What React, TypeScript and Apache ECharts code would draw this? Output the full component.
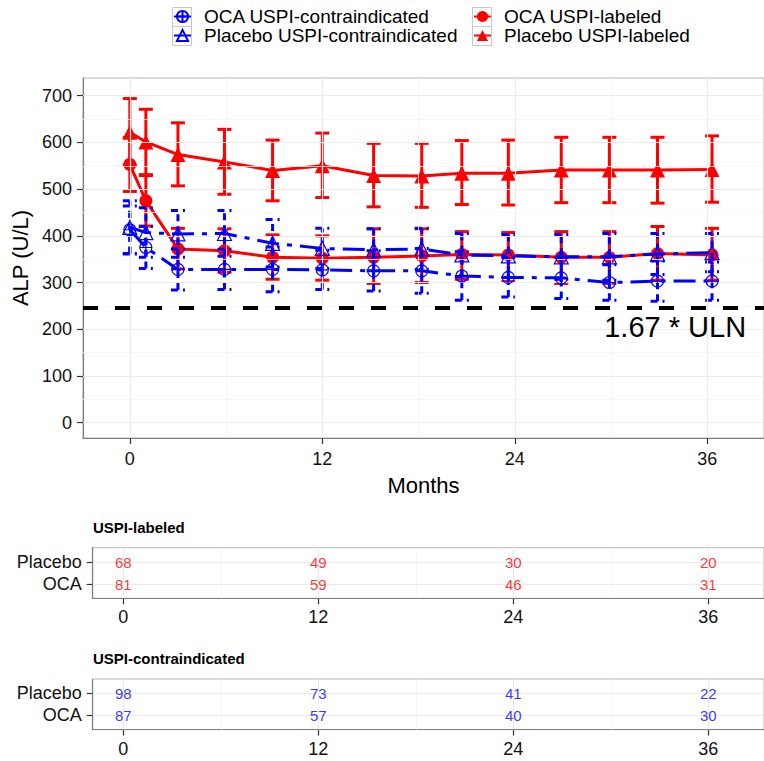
import React, { useEffect, useRef } from 'react';
import * as echarts from 'echarts';

// Visit times (months) shared by all four groups
const months = [0, 1, 3, 5.9, 8.9, 12, 15.2, 18.2, 20.7, 23.6, 26.9, 29.9, 32.9, 36.3];

// Placebo, USPI-labeled
const placeboLabeledMean = [622, 601, 574, 558, 540, 550, 529, 528, 534, 534, 541, 541, 541, 542];
const placeboLabeledLow = [551, 531, 507, 489, 475, 482, 462, 461, 467, 466, 471, 471, 470, 472];
const placeboLabeledHigh = [694, 671, 642, 628, 605, 620, 598, 598, 604, 605, 611, 611, 611, 614];

// OCA, USPI-labeled
const ocaLabeledMean = [553, 475, 372, 368, 354, 352, 354, 357, 360, 359, 354, 354, 362, 359];
const ocaLabeledLow = [495, 421, 329, 322, 307, 305, 298, 300, 307, 302, 298, 298, 305, 305];
const ocaLabeledHigh = [611, 529, 416, 415, 402, 400, 415, 415, 409, 407, 409, 409, 420, 416];

// Placebo, USPI-contraindicated
const placeboContraMean = [418, 407, 404, 405, 384, 373, 370, 372, 359, 357, 355, 355, 361, 364];
const placeboContraLow = [361, 354, 354, 356, 333, 330, 325, 328, 313, 311, 307, 305, 317, 323];
const placeboContraHigh = [475, 460, 454, 454, 435, 416, 415, 416, 405, 403, 403, 405, 405, 405];

// OCA, USPI-contraindicated
const ocaContraMean = [413, 375, 328, 328, 328, 327, 325, 325, 314, 311, 310, 300, 303, 303];
const ocaContraLow = [362, 330, 284, 285, 280, 285, 282, 277, 262, 269, 266, 262, 260, 262];
const ocaContraHigh = [464, 420, 372, 371, 376, 369, 368, 373, 366, 353, 354, 338, 346, 344];

// Reference threshold (1.67 x upper limit of normal)
const ulnThreshold = 247;
const ulnLabel = '1.67 * ULN';

// Axis ticks and grid lines
const yTicks = [0, 100, 200, 300, 400, 500, 600, 700];
const yMinor = [50, 150, 250, 350, 450, 550, 650];
const xTicks = [0, 12, 24, 36];
const xMinor = [6, 18, 30];

// Numbers at risk
const riskMonths = [0, 12, 24, 36];
const labeledPlacebo = [68, 49, 30, 20];
const labeledOCA = [81, 59, 46, 31];
const contraPlacebo = [98, 73, 41, 22];
const contraOCA = [87, 57, 40, 30];
const riskRows = ['OCA', 'Placebo'];

const NAME_OCA_CONTRA = 'OCA USPI-contraindicated';
const NAME_PBO_CONTRA = 'Placebo USPI-contraindicated';
const NAME_OCA_LAB = 'OCA USPI-labeled';
const NAME_PBO_LAB = 'Placebo USPI-labeled';

const RED = '#ff0000';
const BLUE = '#0000ff';
const FONT = "'Liberation Sans', Arial, Helvetica, sans-serif";

const circlePlus = 'path://M10,0A10,10,0,1,1,-10,0A10,10,0,1,1,10,0ZM-10,0L10,0M0,-10L0,10';

const zip2 = (xs: number[], ys: number[]) => xs.map((x, i) => [x, ys[i]]);
const zip3 = (xs: number[], a: number[], b: number[]) => xs.map((x, i) => [x, a[i], b[i]]);

function errorBars(color: string, dash: number[] | null, low: number[], high: number[], z: number) {
  return {
    type: 'custom',
    xAxisIndex: 0,
    yAxisIndex: 0,
    z,
    silent: true,
    encode: { x: 0, y: [1, 2] },
    data: zip3(months, low, high),
    renderItem: (_params: any, api: any) => {
      const x = api.value(0);
      const lo = api.coord([x, api.value(1)]);
      const hi = api.coord([x, api.value(2)]);
      const hw = 7;
      const style: any = { stroke: color, lineWidth: 3, fill: 'none' };
      if (dash) style.lineDash = dash;
      return {
        type: 'group',
        children: [
          { type: 'line', shape: { x1: lo[0], y1: lo[1], x2: hi[0], y2: hi[1] }, style },
          { type: 'line', shape: { x1: hi[0] - hw, y1: hi[1], x2: hi[0] + hw, y2: hi[1] }, style },
          { type: 'line', shape: { x1: lo[0] - hw, y1: lo[1], x2: lo[0] + hw, y2: lo[1] }, style },
        ],
      };
    },
  };
}

function gridLines(xAxisIndex: number, yAxisIndex: number, majorX: number[], minorX: number[], majorY: number[], minorY: number[]) {
  const major = { color: '#ebebeb', width: 1.2, type: 'solid' };
  const minor = { color: '#f4f4f4', width: 0.8, type: 'solid' };
  return {
    type: 'line',
    xAxisIndex,
    yAxisIndex,
    z: 0,
    silent: true,
    data: [],
    markLine: {
      silent: true,
      symbol: 'none',
      animation: false,
      label: { show: false },
      emphasis: { disabled: true },
      data: [
        ...minorX.map((v) => ({ xAxis: v, lineStyle: minor })),
        ...minorY.map((v) => ({ yAxis: v, lineStyle: minor })),
        ...majorX.map((v) => ({ xAxis: v, lineStyle: major })),
        ...majorY.map((v) => ({ yAxis: v, lineStyle: major })),
      ],
    },
  };
}

function riskSeries(xAxisIndex: number, yAxisIndex: number, placebo: number[], oca: number[], color: string) {
  const data = [
    ...riskMonths.map((m, i) => [m, 2, placebo[i]]),
    ...riskMonths.map((m, i) => [m, 1, oca[i]]),
  ];
  return {
    type: 'scatter',
    xAxisIndex,
    yAxisIndex,
    z: 5,
    silent: true,
    symbolSize: 1,
    itemStyle: { color: 'rgba(0,0,0,0)' },
    data,
    label: {
      show: true,
      position: 'inside',
      formatter: (p: any) => String(p.value[2]),
      color,
      fontSize: 15,
      fontFamily: FONT,
    },
  };
}

function riskXAxis(gridIndex: number) {
  return {
    type: 'value',
    gridIndex,
    min: -1.88,
    max: 39.43,
    axisLine: { show: true, onZero: false, lineStyle: { color: '#7f7f7f', width: 1.2 } },
    axisTick: { show: true, customValues: xTicks, length: 6, lineStyle: { color: '#333', width: 1.2 } },
    axisLabel: { customValues: xTicks, margin: 10, fontSize: 18, color: '#111', fontFamily: FONT },
    splitLine: { show: false },
  };
}

function riskYAxis(gridIndex: number) {
  return {
    type: 'value',
    gridIndex,
    min: 0.35,
    max: 2.65,
    axisLine: { show: true, onZero: false, lineStyle: { color: '#7f7f7f', width: 1.2 } },
    axisTick: { show: true, customValues: [1, 2], length: 6, lineStyle: { color: '#333', width: 1.2 } },
    axisLabel: {
      customValues: [1, 2],
      formatter: (v: number) => riskRows[Math.round(v) - 1] ?? '',
      margin: 11,
      fontSize: 18,
      color: '#111',
      fontFamily: FONT,
    },
    splitLine: { show: false },
  };
}

// light frame drawn around each legend key
function keyBox(x: number, y: number) {
  return {
    type: 'rect',
    x,
    y,
    shape: { x: 0, y: 0, width: 19, height: 19 },
    style: { fill: 'none', stroke: '#c8c8c8', lineWidth: 1 },
    silent: true,
    z: 100,
  };
}

function buildOption() {
  const legendCommon = {
    orient: 'vertical',
    top: 7,
    padding: 0,
    itemWidth: 17,
    itemHeight: 14,
    itemGap: 0,
    selectedMode: false,
    textStyle: { fontSize: 19, color: '#000', fontFamily: FONT, lineHeight: 19, padding: [0, 0, 0, 8] },
  };
  const titleStyle = { fontSize: 15, fontWeight: 'bold', color: '#000', fontFamily: FONT };

  return {
    animation: false,
    backgroundColor: '#ffffff',
    textStyle: { fontFamily: FONT },
    title: [
      { text: 'USPI-labeled', left: 93, top: 520, padding: 0, textStyle: titleStyle },
      { text: 'USPI-contraindicated', left: 93, top: 651, padding: 0, textStyle: titleStyle },
    ],
    legend: [
      { ...legendCommon, left: 173, data: [NAME_OCA_CONTRA, NAME_PBO_CONTRA] },
      { ...legendCommon, left: 473, data: [NAME_OCA_LAB, NAME_PBO_LAB] },
    ],
    graphic: [keyBox(172.5, 7.5), keyBox(172.5, 26.5), keyBox(472.5, 7.5), keyBox(472.5, 26.5)],
    grid: [
      { left: 83, top: 78, width: 681, height: 360, show: true, borderColor: '#b5b5b5', borderWidth: 1, backgroundColor: 'transparent', outerBoundsMode: 'none' },
      { left: 92.7, top: 547.7, width: 671.3, height: 50.6, show: true, borderColor: '#b5b5b5', borderWidth: 1, backgroundColor: 'transparent', outerBoundsMode: 'none' },
      { left: 92.7, top: 679, width: 671.3, height: 50.6, show: true, borderColor: '#b5b5b5', borderWidth: 1, backgroundColor: 'transparent', outerBoundsMode: 'none' },
    ],
    xAxis: [
      {
        type: 'value',
        gridIndex: 0,
        min: -2.92,
        max: 39.54,
        name: 'Months',
        nameLocation: 'middle',
        nameGap: 36,
        nameTextStyle: { fontSize: 22, color: '#000', fontFamily: FONT },
        axisLine: { show: true, onZero: false, lineStyle: { color: '#7f7f7f', width: 1.2 } },
        axisTick: { show: true, customValues: xTicks, length: 6, lineStyle: { color: '#333', width: 1.2 } },
        axisLabel: { customValues: xTicks, margin: 12, fontSize: 18, color: '#111', fontFamily: FONT },
        splitLine: { show: false },
      },
      riskXAxis(1),
      riskXAxis(2),
    ],
    yAxis: [
      {
        type: 'value',
        gridIndex: 0,
        min: -33,
        max: 738,
        name: 'ALP (U/L)',
        nameLocation: 'middle',
        nameGap: 50,
        nameTextStyle: { fontSize: 22, color: '#000', fontFamily: FONT },
        axisLine: { show: true, onZero: false, lineStyle: { color: '#7f7f7f', width: 1.2 } },
        axisTick: { show: true, customValues: yTicks, length: 6, lineStyle: { color: '#333', width: 1.2 } },
        axisLabel: { customValues: yTicks, margin: 11, fontSize: 18, color: '#111', fontFamily: FONT },
        splitLine: { show: false },
      },
      riskYAxis(1),
      riskYAxis(2),
    ],
    series: [
      gridLines(0, 0, xTicks, xMinor, yTicks, yMinor),
      gridLines(1, 1, xTicks, xMinor, [1, 2], []),
      gridLines(2, 2, xTicks, xMinor, [1, 2], []),

      // threshold line and its caption
      {
        type: 'line',
        xAxisIndex: 0,
        yAxisIndex: 0,
        z: 1,
        silent: true,
        data: [],
        markLine: {
          silent: true,
          symbol: 'none',
          animation: false,
          label: { show: false },
          lineStyle: { color: '#000', width: 4, type: [15, 17] },
          data: [{ yAxis: ulnThreshold }],
        },
        markPoint: {
          silent: true,
          symbol: 'circle',
          symbolSize: 0,
          animation: false,
          label: { show: true, position: 'inside', formatter: ulnLabel, fontSize: 29, color: '#000', fontFamily: FONT },
          data: [{ coord: [34, 205] }],
        },
      },

      // USPI-labeled groups
      errorBars(RED, null, placeboLabeledLow, placeboLabeledHigh, 2),
      errorBars(RED, null, ocaLabeledLow, ocaLabeledHigh, 2),
      {
        type: 'line',
        name: NAME_PBO_LAB,
        xAxisIndex: 0,
        yAxisIndex: 0,
        z: 3,
        data: zip2(months, placeboLabeledMean),
        symbol: 'triangle',
        symbolSize: 15,
        showAllSymbol: true,
        lineStyle: { color: RED, width: 3 },
        itemStyle: { color: RED, borderColor: RED, borderWidth: 0 },
      },
      {
        type: 'line',
        name: NAME_OCA_LAB,
        xAxisIndex: 0,
        yAxisIndex: 0,
        z: 3,
        data: zip2(months, ocaLabeledMean),
        symbol: 'circle',
        symbolSize: 13,
        showAllSymbol: true,
        lineStyle: { color: RED, width: 3 },
        itemStyle: { color: RED, borderColor: RED, borderWidth: 0 },
      },

      // USPI-contraindicated groups
      errorBars(BLUE, [7, 5], placeboContraLow, placeboContraHigh, 4),
      errorBars(BLUE, [7, 5], ocaContraLow, ocaContraHigh, 4),
      {
        type: 'line',
        name: NAME_PBO_CONTRA,
        xAxisIndex: 0,
        yAxisIndex: 0,
        z: 5,
        data: zip2(months, placeboContraMean),
        symbol: 'triangle',
        symbolSize: 14,
        showAllSymbol: true,
        lineStyle: { color: BLUE, width: 3, type: [22, 8, 5, 8] },
        itemStyle: { color: 'rgba(255,255,255,0)', borderColor: BLUE, borderWidth: 1.2 },
      },
      {
        type: 'line',
        name: NAME_OCA_CONTRA,
        xAxisIndex: 0,
        yAxisIndex: 0,
        z: 5,
        data: zip2(months, ocaContraMean),
        symbol: circlePlus,
        symbolSize: 12,
        showAllSymbol: true,
        lineStyle: { color: BLUE, width: 3, type: [22, 8, 5, 8] },
        itemStyle: { color: 'rgba(255,255,255,0)', borderColor: BLUE, borderWidth: 1.2 },
      },

      // numbers at risk
      riskSeries(1, 1, labeledPlacebo, labeledOCA, RED),
      riskSeries(2, 2, contraPlacebo, contraOCA, BLUE),
    ],
  };
}

export default function App() {
  const ref = useRef<HTMLDivElement>(null);

  useEffect(() => {
    if (!ref.current) return;
    const chart = echarts.init(ref.current, null, { renderer: 'svg' });
    chart.setOption(buildOption() as any);
    return () => chart.dispose();
  }, []);

  return (
    <div
      ref={ref}
      style={{ position: 'fixed', left: 0, top: 0, width: 764, height: 761, background: '#fff' }}
    />
  );
}
